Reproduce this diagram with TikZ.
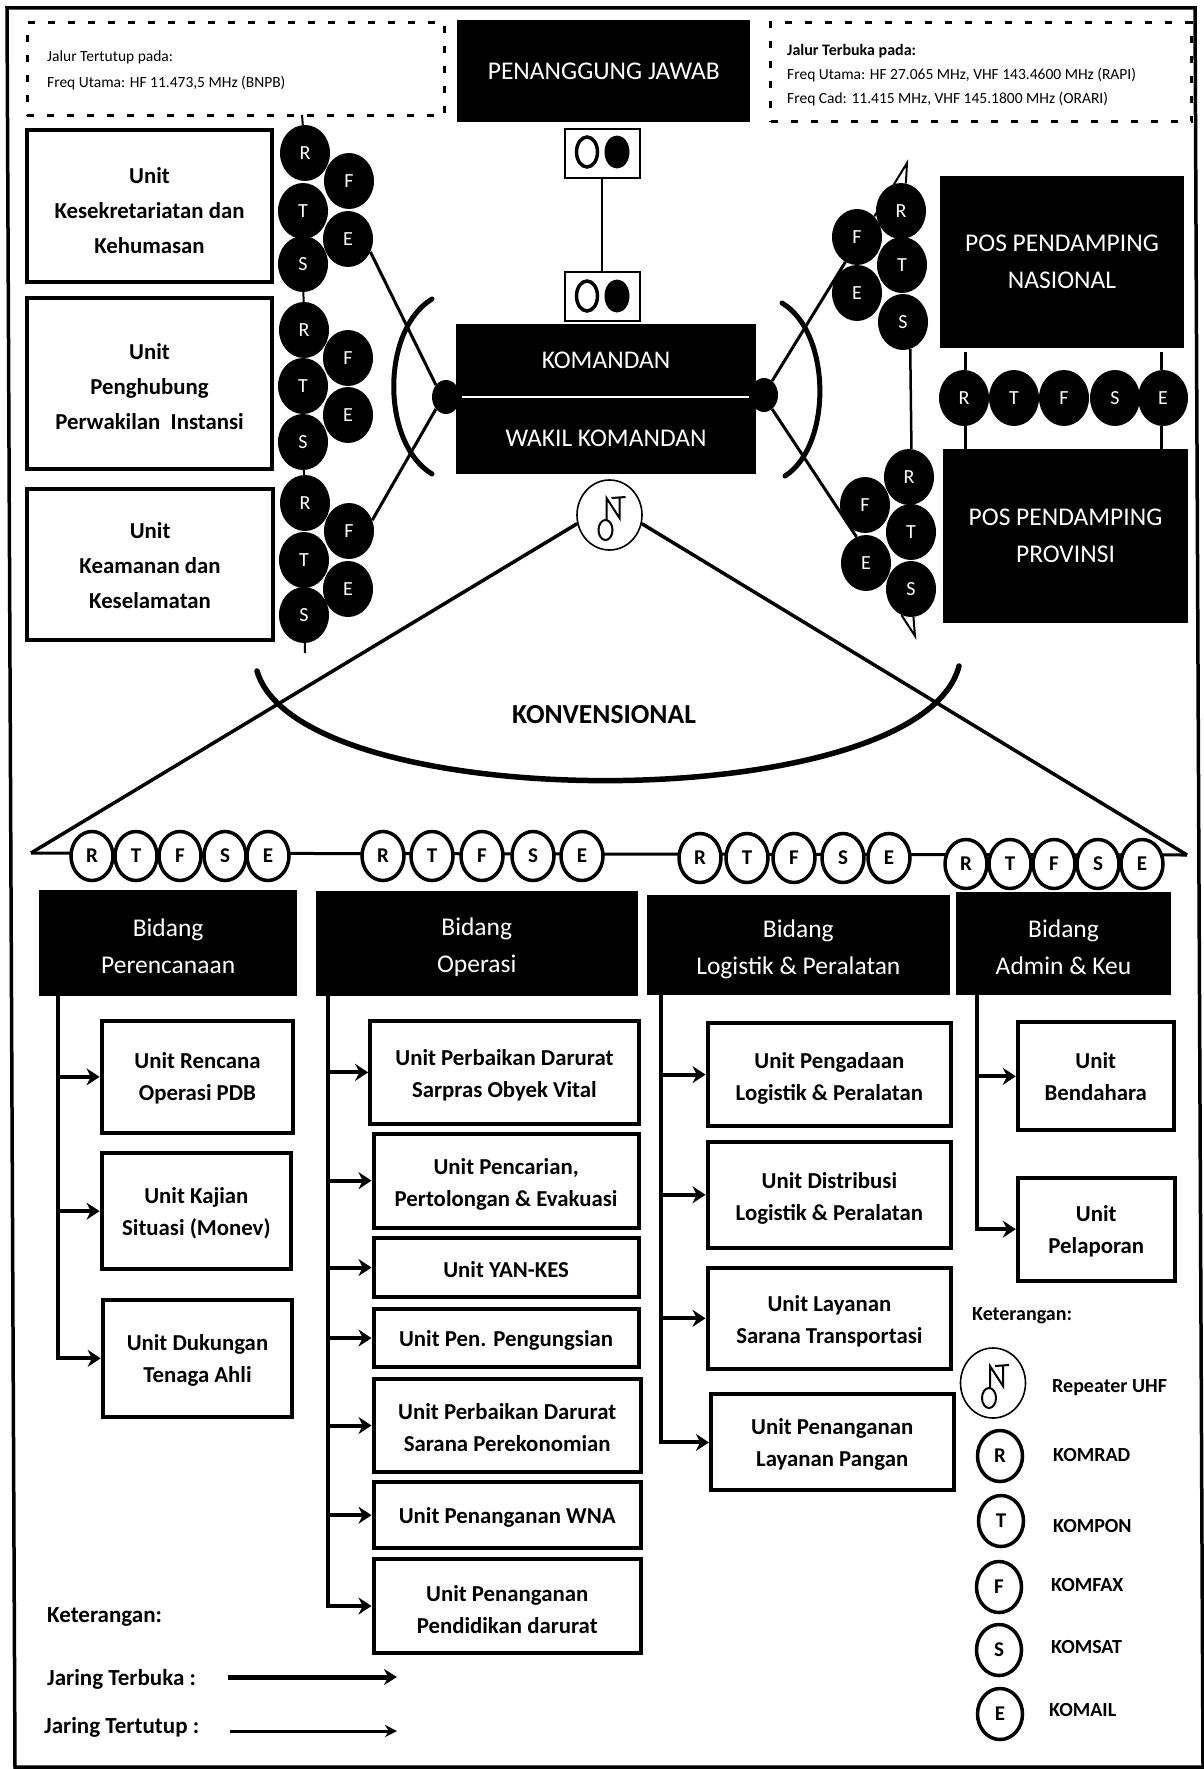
\documentclass[tikz,border=0pt]{standalone}
\usepackage{fontspec}
\setmainfont{Carlito}
\usetikzlibrary{shapes.geometric,arrows.meta}
\newcommand\bxnode[7][]{%
  \pgfmathsetmacro\cxx{(#3+#5)/2*1.1284}%
  \pgfmathsetmacro\cyy{(#4+#6)/2*1.1282}%
  \pgfmathsetmacro\ww{(#5-#3)*1.1284}%
  \pgfmathsetmacro\hh{(#6-#4)*1.1282}%
  \node[#1,minimum width=\ww pt,minimum height=\hh pt] (#2) at (\cxx,\cyy) {#7};}
% box with its text set a given amount lower than the box centre
\newcommand\bxlow[8][]{%
  \bxnode[#1]{#2}{#3}{#4}{#5}{#6}{}%
  \node[#1,draw=none,fill=none] (#2text) at ([yshift=-#8 pt]#2.center) {#7};}
\newcommand\cir[5]{\node[#1] (#2) at (#3,#4) {#5};}
\newcommand\repicon[2]{%
  \begin{scope}[shift={(#1,#2)}]
    \draw[line width=2pt] (-4,15) ellipse [x radius=7, y radius=10];
    \draw[line width=2pt] (-3,5) -- (-3,-17) -- (10,3) -- (10,-17);
    \draw[line width=2pt] (2,-17) -- (16,-18);
  \end{scope}}
\tikzset{
  blk/.style={fill=black,text=white,inner sep=0pt,align=center,font=\fontsize{25.5}{37}\selectfont},
  unitbox/.style={draw=black,fill=white,line width=4pt,inner sep=0pt,align=center,font=\bfseries\fontsize{22.8}{32}\selectfont},
  unitboxb/.style={unitbox,font=\bfseries\fontsize{22.8}{35}\selectfont},
  dot/.style={ellipse,fill=black,text=white,inner sep=0pt,minimum width=50pt,minimum height=56pt,font=\fontsize{20}{20}\selectfont},
  wdot/.style={ellipse,draw=black,fill=white,line width=3.5pt,inner sep=0pt,minimum width=42pt,minimum height=49pt,font=\bfseries\fontsize{21}{21}\selectfont},
  ldot/.style={wdot,line width=3.5pt,minimum width=45pt,minimum height=51pt},
  rep/.style={ellipse,draw=black,fill=white,line width=1.6pt,inner sep=0pt,minimum width=65pt,minimum height=70pt},
  ln/.style={draw=black,line width=3.5pt},
  thin/.style={draw=black,line width=2pt},
  conn/.style={draw=black,line width=4pt,-{Stealth[length=13pt,width=17pt]}},
  dashbox/.style={draw=black,line width=3pt,dash pattern=on 7pt off 13pt,inner sep=0pt},
  smallbox/.style={draw=black,fill=white,line width=2pt,inner sep=0pt},
  smalltxt/.style={anchor=west,inner sep=0pt,font=\fontsize{15.5}{16}\selectfont},
  smallbold/.style={anchor=west,inner sep=0pt,font=\bfseries\fontsize{16}{16}\selectfont},
  legtxt/.style={anchor=west,inner sep=0pt,font=\bfseries\fontsize{20}{22}\selectfont},
  leglarge/.style={anchor=west,inner sep=0pt,font=\bfseries\fontsize{23}{26}\selectfont},
}
\begin{document}
\begin{tikzpicture}[x=1pt,y=-1pt]
\useasboundingbox (0,0) rectangle (1204,1769);
\fill[white] (0,0) rectangle (1204,1769);
\draw[line width=3.5pt] (7,8) -- (1195,8) -- (1203,1767) -- (15,1767) -- cycle;

% dashed info boxes
\bxnode[dashbox]{dA}{24}{20}{394}{102}{}
\bxnode[dashbox]{dB}{683}{20}{1056}{108}{}
\node[smalltxt] (ta1) at (47,57) {Jalur Tertutup pada:};
\node[smalltxt] (ta2) at (47,83) {Freq Utama: HF 11.473,5 MHz (BNPB)};
\node[smallbold] (tb1) at (787,51) {Jalur Terbuka pada:};
\node[smalltxt] (tb2) at (787,75) {Freq Utama: HF 27.065 MHz, VHF 143.4600 MHz (RAPI)};
\node[smalltxt] (tb3) at (787,99) {Freq Cad: 11.415 MHz, VHF 145.1800 MHz (ORARI)};

% centre
\bxnode[blk]{PJ}{405}{18}{665}{108}{PENANGGUNG JAWAB}
\node[smallbox,minimum width=75pt,minimum height=49pt] (SB1) at (602,153) {};
\node[smallbox,minimum width=75pt,minimum height=49pt] (SB2) at (602,296) {};
\draw[thin,line width=2.5pt] (SB1) -- (SB2);
\foreach \n/\y in {1/152,2/296}{
  \node[ellipse,draw=black,line width=3.5pt,inner sep=0pt,minimum width=21pt,minimum height=30pt] (oa\n) at (587,\y) {};
  \node[ellipse,fill=black,inner sep=0pt,minimum width=25pt,minimum height=33pt] (ob\n) at (617,\y) {};
}
\node[fill=black,inner sep=0pt,minimum width=300pt,minimum height=150pt] (KW) at (606,399) {};
\node[inner sep=0pt,text=white,font=\fontsize{25.5}{26}\selectfont] (K) at (606,360) {KOMANDAN};
\node[inner sep=0pt,text=white,font=\fontsize{25.5}{26}\selectfont] (W) at (606,438) {WAKIL KOMANDAN};
\draw[white,line width=2.5pt] (KW.west |- 0,397) ++(6,0) -- ++(287,0);
\node[ellipse,fill=black,inner sep=0pt,minimum width=28pt,minimum height=34pt] (dotL) at (446,397) {};
\node[ellipse,fill=black,inner sep=0pt,minimum width=28pt,minimum height=34pt] (dotR) at (764,395) {};

% left units
\bxlow[unitboxb]{U1}{24}{115}{241}{250}{Unit\\Kesekretariatan dan\\Kehumasan}{4.5}
\bxlow[unitboxb]{U2}{24}{264}{241}{416}{Unit\\Penghubung\\Perwakilan\ \ Instansi}{2.5}
\bxlow[unitboxb]{U3}{24}{433}{242}{567}{Unit\\Keamanan dan\\Keselamatan}{1.5}

% left chains
\coordinate (tL1) at (302,115);
\coordinate (tL2) at (305,653);
\cir{dot}{R1}{305}{153}{R}\cir{dot}{T1}{303}{211}{T}\cir{dot}{S1}{303}{264}{S}\cir{dot}{F1}{349}{181}{F}\cir{dot}{E1}{348}{239}{E}
\cir{dot}{R2}{304}{330}{R}\cir{dot}{T2}{303}{386}{T}\cir{dot}{S2}{303}{442}{S}\cir{dot}{F2}{348}{358}{F}\cir{dot}{E2}{348}{415}{E}
\cir{dot}{R3}{305}{503}{R}\cir{dot}{T3}{304}{560}{T}\cir{dot}{S3}{304}{615}{S}\cir{dot}{F3}{349}{531}{F}\cir{dot}{E3}{348}{589}{E}
\draw[thin] (tL1) -- (R1);
\draw[thin] (S1) -- (R2);
\draw[thin] (S2) -- (R3);
\draw[thin] (S3) -- (tL2);

% right chains
\cir{dot}{R4}{901}{211}{R}\cir{dot}{T4}{902}{265}{T}\cir{dot}{S4}{903}{322}{S}\cir{dot}{F4}{857}{237}{F}\cir{dot}{E4}{857}{293}{E}
\cir{dot}{R5}{909}{477}{R}\cir{dot}{T5}{911}{532}{T}\cir{dot}{S5}{911}{589}{S}\cir{dot}{F5}{865}{505}{F}\cir{dot}{E5}{866}{563}{E}
\coordinate (tR1) at (907,163);
\coordinate (tR2) at (915,636);
\draw[thin] (F4.50) -- (tR1) -- (R4.80);
\draw[thin,line width=2.5pt] (S4.-75) -- (R5.85);
\draw[thin] (S5.250) -- (tR2) -- (S5.275);

% hub connectors
\draw[ln,line width=3pt] (E1.-30) -- (dotL.130);
\draw[ln,line width=3pt] (F3.25) -- (dotL.230);
\draw[ln,line width=3pt] (dotR.60) -- (F4.245);
\draw[ln,line width=3pt] (dotR.-60) -- (E5.110);
\coordinate (aL1) at (432,299);
\coordinate (aL2) at (432,474);
\coordinate (aR1) at (782,303);
\coordinate (aR2) at (785,476);
\draw[draw=black,line width=5pt,line cap=round] (aL1) .. controls (381,330) and (381,443) .. (aL2);
\draw[draw=black,line width=5pt,line cap=round] (aR1) .. controls (832,333) and (832,446) .. (aR2);

% pos boxes
\node[blk,minimum width=244pt,minimum height=172pt] (PN) at (1062,262) {POS PENDAMPING\\NASIONAL};
\node[blk,minimum width=245pt,minimum height=174pt] (PP) at (1065.5,536) {POS PENDAMPING\\PROVINSI};
\cir{dot}{R6}{964}{398}{R}\cir{dot}{T6}{1014}{398}{T}\cir{dot}{F6}{1064}{398}{F}\cir{dot}{S6}{1115}{398}{S}\cir{dot}{E6}{1163}{398}{E}
\coordinate (n1) at (965,352);
\coordinate (n2) at (1161,352);
\draw[thin,line width=3pt] (n1) -- (R6.north -| n1);
\draw[thin,line width=3pt] (n2) -- (E6.north -| n2);
\draw[thin,line width=3pt] (R6.south -| n1) -- (PP.north -| n1);
\draw[thin,line width=3pt] (E6.south -| n2) -- (PP.north -| n2);

% repeater and main triangle
\node[rep] (rp) at (609.5,515) {};
\repicon{609.5}{515}
\coordinate (triL) at (31,853);
\coordinate (triR) at (1187,855);
\draw[ln] (rp.195) -- (triL);
\draw[ln] (rp.-15) -- (triR);
\coordinate (kA) at (257,671);
\coordinate (kB) at (959,666);
\draw[draw=black,line width=5.5pt,line cap=round] (kA) .. controls (300,818) and (920,818) .. (kB);
\node[inner sep=0pt,font=\bfseries\fontsize{27.5}{28}\selectfont] (KV) at (604,715) {KONVENSIONAL};

% line through white circles
\draw[ln,line width=3pt] (triL) -- (triR);
\cir{wdot}{R7}{92}{856}{R}\cir{wdot}{T7}{136}{856}{T}\cir{wdot}{F7}{180}{856}{F}\cir{wdot}{S7}{225}{856}{S}\cir{wdot}{E7}{268}{856}{E}
\cir{wdot}{R8}{383}{856}{R}\cir{wdot}{T8}{432}{856}{T}\cir{wdot}{F8}{482}{856}{F}\cir{wdot}{S8}{533}{856}{S}\cir{wdot}{E8}{582}{856}{E}
\cir{wdot}{R9}{700}{858}{R}\cir{wdot}{T9}{747}{858}{T}\cir{wdot}{F9}{794}{858}{F}\cir{wdot}{S9}{843}{858}{S}\cir{wdot}{E9}{889}{858}{E}
\cir{wdot}{R10}{966}{864}{R}\cir{wdot}{T10}{1010}{864}{T}\cir{wdot}{F10}{1054}{864}{F}\cir{wdot}{S10}{1098}{864}{S}\cir{wdot}{E10}{1142}{864}{E}

% bidang heads
\bxlow[blk]{B1}{35}{789}{263}{883}{Bidang\\Perencanaan}{3.5}
\bxlow[blk]{B2}{280}{790}{565}{883}{Bidang\\Operasi}{3.5}
\bxlow[blk]{B3}{573}{793}{842}{882}{Bidang\\Logistik \& Peralatan}{4.5}
\bxlow[blk]{B4}{847}{791}{1038}{882}{Bidang\\Admin \& Keu}{3.5}

% units col 1
\bxlow[unitbox]{A1}{90}{905}{260}{1004}{Unit Rencana\\Operasi PDB}{1}
\bxlow[unitbox]{A2}{90}{1022}{258}{1125}{Unit Kajian\\Situasi (Monev)}{2.5}
\bxlow[unitbox]{A3}{91}{1152}{259}{1256}{Unit Dukungan\\Tenaga Ahli}{2.5}
% col 2
\bxlow[unitbox]{C1}{328}{905}{566}{996}{Unit Perbaikan Darurat\\Sarpras Obyek Vital}{3}
\bxlow[unitbox]{C2}{331}{1005}{566}{1088}{Unit Pencarian,\\Pertolongan \& Evakuasi}{4}
\bxlow[unitbox]{C3}{331}{1097}{566}{1150}{Unit YAN-KES}{2}
\bxlow[unitbox]{C4}{331}{1160}{566}{1212}{Unit Pen. Pengungsian}{2}
\bxlow[unitbox]{C5}{331}{1222}{568}{1305}{Unit Perbaikan Darurat\\Sarana Perekonomian}{2.5}
\bxlow[unitbox]{C6}{331}{1314}{568}{1372}{Unit Penanganan WNA}{2}
\bxlow[unitbox]{C7}{331}{1382}{568}{1465}{Unit Penanganan\\Pendidikan darurat}{3.5}
% col 3
\bxlow[unitbox]{D1}{627}{907}{843}{998}{Unit Pengadaan\\Logistik \& Peralatan}{3.5}
\bxlow[unitbox]{D2}{627}{1012}{843}{1106}{Unit Distribusi\\Logistik \& Peralatan}{4}
\bxlow[unitbox]{D3}{627}{1124}{843}{1213}{Unit Layanan\\Sarana Transportasi}{2.5}
\bxlow[unitbox]{D4}{630}{1236}{845}{1321}{Unit Penanganan\\Layanan Pangan}{2.5}
% col 4
\bxlow[unitbox]{G1}{902}{906}{1040}{1002}{Unit\\Bendahara}{0.5}
\bxlow[unitbox]{G2}{902}{1044}{1041}{1135}{Unit\\Pelaporan}{2}

% trunks
\coordinate (t1) at (57.5,995);
\coordinate (t2) at (328,995);
\coordinate (t3) at (661,995);
\coordinate (t4) at (977,995);
\foreach \b in {A1,A2,A3}{\draw[conn] (t1) |- (\b.west);}
\foreach \b in {C1,C2,C3,C4,C5,C6,C7}{\draw[conn] (t2) |- (\b.west);}
\foreach \b in {D1,D2,D3,D4}{\draw[conn] (t3) |- (\b.west);}
\foreach \b in {G1,G2}{\draw[conn] (t4) |- (\b.west);}

% right legend
\node[legtxt] (lk) at (972,1316) {Keterangan:};
\node[rep] (lrep) at (993,1383) {};
\repicon{993}{1383}
\node[legtxt] (l0) at (1052,1388) {Repeater UHF};
\cir{ldot}{LR}{1000}{1456}{R}\node[legtxt] (l1) at (1053,1455) {KOMRAD};
\cir{ldot}{LT}{1001}{1521}{T}\node[legtxt] (l2) at (1053,1526) {KOMPON};
\cir{ldot}{LF}{999}{1587}{F}\node[legtxt] (l3) at (1051,1585) {KOMFAX};
\cir{ldot}{LS}{999}{1650}{S}\node[legtxt] (l4) at (1051,1647) {KOMSAT};
\cir{ldot}{LE}{1000}{1714}{E}\node[legtxt] (l5) at (1049,1710) {KOMAIL};

% left legend
\node[leglarge] (lg) at (47,1617) {Keterangan:};
\node[leglarge] (lo) at (47,1679) {Jaring Terbuka :};
\node[leglarge] (lc) at (44,1727) {Jaring Tertutup :};
\coordinate (o1) at (228,1677);
\coordinate (o2) at (397,1677);
\coordinate (c1) at (230,1731);
\coordinate (c2) at (397,1731);
\draw[draw=black,line width=5pt,-{Stealth[length=13pt,width=16pt]}] (o1) -- (o2);
\draw[draw=black,line width=3pt,-{Stealth[length=12pt,width=12pt]}] (c1) -- (c2);
\end{tikzpicture}
\end{document}
